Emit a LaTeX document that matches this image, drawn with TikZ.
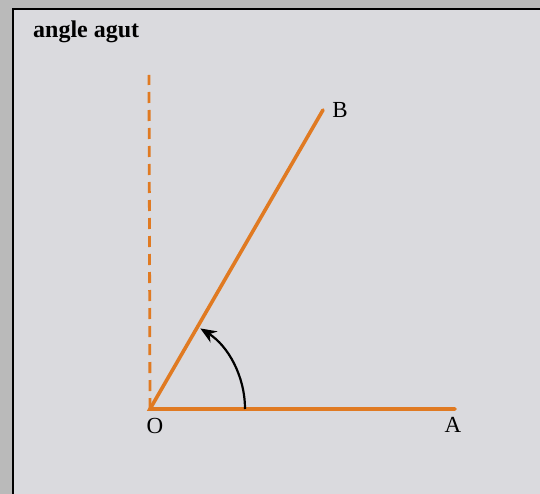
\documentclass[tikz,border=0pt]{standalone}
\usepackage{fontspec}
\setmainfont{Liberation Serif}
\usetikzlibrary{arrows.meta}
\definecolor{outergray}{HTML}{BABABA}
\definecolor{panel}{HTML}{DADADE}
\definecolor{ray}{HTML}{E07A22}
\tikzset{
  rayline/.style={draw=ray, line width=3.6pt},
  dashline/.style={draw=ray, line width=2.8pt, dash pattern=on 11pt off 7pt},
  lbl/.style={font=\fontsize{23}{27}\selectfont, inner sep=0pt},
  ttl/.style={font=\fontsize{24}{28}\selectfont\bfseries, inner sep=0pt, anchor=base west},
}
\begin{document}
\begin{tikzpicture}[x=1pt,y=-1pt]
\useasboundingbox (0,0) rectangle (540,494);
\fill[outergray] (0,0) rectangle (540,494);
\fill[panel] (12.5,8.5) rectangle (540,494);
\draw[black, line width=2.2pt] (13,494) -- (13,9) -- (540,9);
\node[ttl] (title) at (33,38) {angle agut};
\coordinate (O) at (150,409);
\coordinate (A) at (455,409);
\coordinate (B) at (323,110);
\coordinate (V) at (149,75);
\draw[dashline] (O) -- (V);
\draw[rayline, line cap=round] (A) -- (O) -- (B);
\draw[black, line width=2.2pt, -{Stealth[length=16pt,width=13pt]}] (O) ++(0:95) arc[start angle=0, end angle=-58, radius=95];
\node[lbl] (Ol) at (155,426) {O};
\node[lbl] (Al) at (453,425) {A};
\node[lbl] (Bl) at (340,110) {B};
\end{tikzpicture}
\end{document}
